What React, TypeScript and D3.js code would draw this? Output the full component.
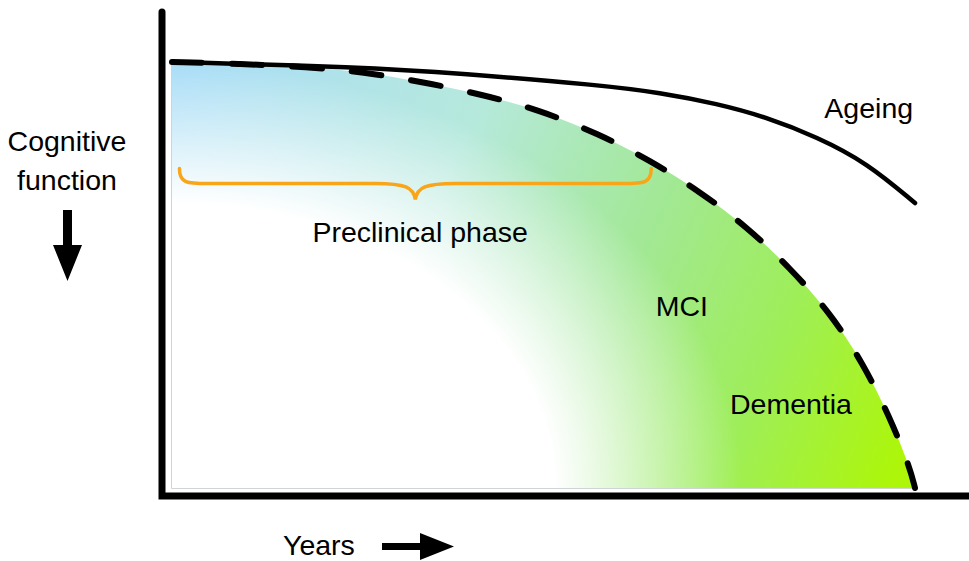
import { useEffect, useRef } from "react";
import * as d3 from "d3";

const width = 969;
const height = 561;

// years (0-100) vs cognitive function (0-100)
const ageingYears = [0, 25.3, 38.8, 57.6, 65.7, 73.4, 80.1, 86.8, 93.5, 100];
const ageingValues = [100, 98.8, 97.3, 94.6, 92.8, 90.2, 87.0, 82.4, 76.4, 66.9];

const diseaseYears = [0, 9.2, 18.2, 25.7, 33.8, 41.9, 49.5, 57.2, 64.3, 71.1, 77.4, 83.2, 88.6, 93.0, 96.6, 99.3, 100];
const diseaseValues = [100, 99.6, 98.8, 97.7, 95.3, 92.3, 88.7, 83.3, 77.0, 69.5, 61.3, 51.6, 41.1, 29.3, 16.7, 4.9, 0];

// preclinical bracket, in data units
const bracketStart = 1;
const bracketEnd = 64.5;
const bracketLevel = 71.5;

const labels = [
  { text: "Ageing", year: 87.8, value: 86.9, anchor: "start" },
  { text: "MCI", year: 65.1, value: 40.4, anchor: "start" },
  { text: "Dementia", year: 75.1, value: 17.4, anchor: "start" },
  { text: "Preclinical phase", year: 33.4, value: 57.7, anchor: "middle" },
];

const font = "'Liberation Sans', Arial, Helvetica, sans-serif";
const fontSize = 28.5;

export default function App() {
  const svgRef = useRef<SVGSVGElement | null>(null);

  useEffect(() => {
    if (!svgRef.current) return;
    const svg = d3.select(svgRef.current);
    svg.selectAll("*").remove();

    const x = d3.scaleLinear().domain([0, 100]).range([172, 915]);
    const y = d3.scaleLinear().domain([0, 100]).range([488, 62]);

    const defs = svg.append("defs");

    // base colour, blue at top-left to lime at bottom-right
    const base = defs
      .append("linearGradient")
      .attr("id", "base")
      .attr("gradientUnits", "userSpaceOnUse")
      .attr("x1", x(0))
      .attr("y1", y(90))
      .attr("x2", x(100))
      .attr("y2", y(15));
    [
      [0, "#a9ddf7"],
      [0.35, "#b6e9dc"],
      [0.6, "#a2e896"],
      [0.8, "#9eee5a"],
      [1, "#adf60a"],
    ].forEach(([o, c]) => base.append("stop").attr("offset", o).attr("stop-color", c));

    // white fog from the bottom-left corner
    const fog = defs
      .append("radialGradient")
      .attr("id", "fog")
      .attr("gradientUnits", "userSpaceOnUse")
      .attr("cx", 0)
      .attr("cy", 0)
      .attr("r", 1)
      .attr("gradientTransform", `translate(${x(0)},${y(0)}) scale(570,425)`);
    [
      [0, 1],
      [0.67, 1],
      [0.85, 0.45],
      [1, 0],
    ].forEach(([o, a]) =>
      fog.append("stop").attr("offset", o).attr("stop-color", "#ffffff").attr("stop-opacity", a),
    );

    const diseaseData = diseaseYears.map((d, i) => [d, diseaseValues[i]] as [number, number]);
    const ageingData = ageingYears.map((d, i) => [d, ageingValues[i]] as [number, number]);

    const area = d3
      .area<[number, number]>()
      .x((d) => x(d[0]))
      .y0(y(0))
      .y1((d) => y(d[1]))
      .curve(d3.curveBasis);

    svg.append("path").datum(diseaseData).attr("d", area).attr("fill", "url(#base)");
    svg.append("path").datum(diseaseData).attr("d", area).attr("fill", "url(#fog)");

    // thin grey frame on left and bottom of the fill
    svg
      .append("path")
      .attr("d", `M${x(0) - 0.5},${y(100)}V${y(0) + 0.5}H${x(100)}`)
      .attr("fill", "none")
      .attr("stroke", "#cfd4d6")
      .attr("stroke-width", 1);

    const line = d3
      .line<[number, number]>()
      .x((d) => x(d[0]))
      .y((d) => y(d[1]))
      .curve(d3.curveBasis);

    svg
      .append("path")
      .datum(ageingData)
      .attr("d", line)
      .attr("fill", "none")
      .attr("stroke", "#000")
      .attr("stroke-width", 4.5)
      .attr("stroke-linecap", "round");

    svg
      .append("path")
      .datum(diseaseData)
      .attr("d", line)
      .attr("fill", "none")
      .attr("stroke", "#000")
      .attr("stroke-width", 6)
      .attr("stroke-linecap", "round")
      .attr("stroke-dasharray", "30,30");

    // axes
    svg
      .append("path")
      .attr("d", `M${x(0) - 10},12V${y(0) + 8}H${width}`)
      .attr("fill", "none")
      .attr("stroke", "#000")
      .attr("stroke-width", 7)
      .attr("stroke-linecap", "round");

    // bracket
    const bx0 = x(bracketStart);
    const bx1 = x(bracketEnd);
    const bm = (bx0 + bx1) / 2;
    const by = y(bracketLevel);
    const top = by - 15;
    const tip = by + 16;
    svg
      .append("path")
      .attr(
        "d",
        `M${bx0},${top}C${bx0},${by} ${bx0 + 8},${by} ${bx0 + 28},${by}` +
          `H${bm - 40}C${bm - 10},${by} ${bm - 2},${by + 4} ${bm},${tip}` +
          `C${bm + 2},${by + 4} ${bm + 10},${by} ${bm + 40},${by}` +
          `H${bx1 - 28}C${bx1 - 8},${by} ${bx1},${by} ${bx1},${top}`,
      )
      .attr("fill", "none")
      .attr("stroke", "#f9a51a")
      .attr("stroke-width", 3.5)
      .attr("stroke-linecap", "round");

    // labels
    svg
      .selectAll("text.lbl")
      .data(labels)
      .join("text")
      .attr("class", "lbl")
      .attr("x", (d) => x(d.year))
      .attr("y", (d) => y(d.value))
      .attr("text-anchor", (d) => d.anchor)
      .attr("font-family", font)
      .attr("font-size", fontSize)
      .attr("fill", "#000")
      .text((d) => d.text);

    // axis titles with arrows
    svg
      .append("text")
      .attr("x", 67)
      .attr("y", 151)
      .attr("text-anchor", "middle")
      .attr("font-family", font)
      .attr("font-size", fontSize)
      .text("Cognitive");
    svg
      .append("text")
      .attr("x", 67)
      .attr("y", 190)
      .attr("text-anchor", "middle")
      .attr("font-family", font)
      .attr("font-size", fontSize)
      .text("function");
    svg
      .append("path")
      .attr("d", "M63,210H72V245H82L67.5,281L53,245H63Z")
      .attr("fill", "#000");

    svg
      .append("text")
      .attr("x", 283)
      .attr("y", 555)
      .attr("font-family", font)
      .attr("font-size", fontSize)
      .text("Years");
    svg
      .append("path")
      .attr("d", "M382,543H420V533L454,546.5L420,560V550H382Z")
      .attr("fill", "#000");
  }, []);

  return (
    <svg
      ref={svgRef}
      width={width}
      height={height}
      viewBox={`0 0 ${width} ${height}`}
      style={{ position: "absolute", left: 0, top: 0, background: "#fff" }}
    />
  );
}
